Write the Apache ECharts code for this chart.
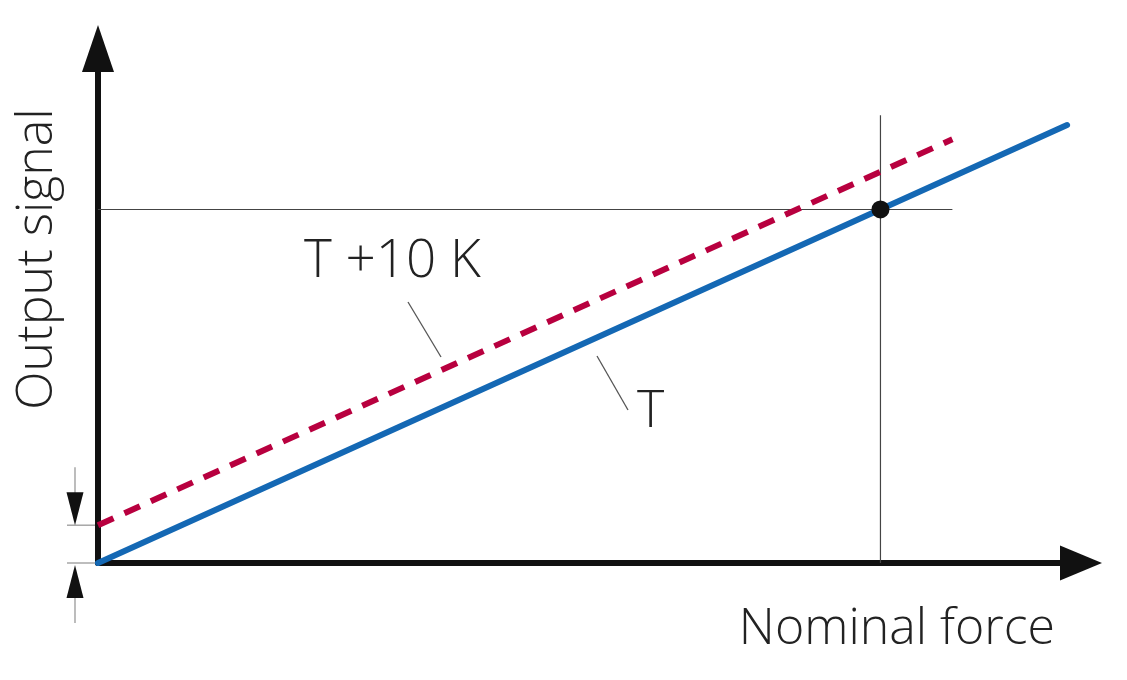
<!DOCTYPE html>
<html>
<head>
<meta charset="utf-8">
<script src="https://cdn.jsdelivr.net/npm/echarts@6/dist/echarts.min.js"></script>
<style>
  html, body { margin: 0; padding: 0; background: #fff; }
  #chart { width: 1127px; height: 680px; }
</style>
</head>
<body>
<div id="chart"></div>
<script>
// characteristic curves (force in %, signal in %)
var curveT = [[0, 0], [99.7, 89.2]];
var curveT10 = [[0, 7.7], [87.9, 86.3]];
// nominal point and its guide lines
var nominalPoint = [80.5, 72];
var guideH = [[0, 72], [87.9, 72]];
var guideV = [[80.5, 0], [80.5, 91.2]];
var zeroShift = 7.7; // zero signal shift for T +10 K

var FONT = '"Open Sans", "DejaVu Sans", sans-serif';

var chart = echarts.init(document.getElementById('chart'));

var option = {
  animation: false,
  grid: { left: 98, right: 57, top: 72, bottom: 117 },
  xAxis: {
    type: 'value', min: 0, max: 100,
    splitLine: { show: false }, axisTick: { show: false }, axisLabel: { show: false },
    axisLine: {
      show: true, onZero: false,
      symbol: ['none', 'triangle'], symbolSize: [35, 42], symbolOffset: [0, 11],
      lineStyle: { color: '#111', width: 6 }
    }
  },
  yAxis: {
    type: 'value', min: 0, max: 100,
    splitLine: { show: false }, axisTick: { show: false }, axisLabel: { show: false },
    axisLine: {
      show: true, onZero: false,
      symbol: ['none', 'triangle'], symbolSize: [32, 47], symbolOffset: [0, 23.5],
      lineStyle: { color: '#111', width: 6 }
    }
  },
  series: [
    {
      type: 'line', data: guideH, symbol: 'none', silent: true,
      lineStyle: { color: '#444', width: 1.2 }
    },
    {
      type: 'line', data: guideV, symbol: 'none', silent: true,
      lineStyle: { color: '#444', width: 1.2 }
    },
    {
      name: 'T +10 K', type: 'line', data: curveT10, symbol: 'none',
      lineStyle: { color: '#b8003f', width: 6, type: [17, 12] }
    },
    {
      name: 'T', type: 'line', data: curveT, symbol: 'none',
      lineStyle: { color: '#1468b4', width: 6, cap: 'round' }
    },
    {
      type: 'scatter', data: [nominalPoint], symbolSize: 18, z: 5,
      itemStyle: { color: '#111', opacity: 1 }
    }
  ]
};
chart.setOption(option);

// annotations
var p0 = chart.convertToPixel({ gridIndex: 0 }, [0, 0]);
var pS = chart.convertToPixel({ gridIndex: 0 }, [0, zeroShift]);
var ax = p0[0] - 23;

function txt(text, x, y, size, align, rotation) {
  return {
    type: 'text', x: x, y: y, rotation: rotation || 0, silent: true,
    style: {
      text: text, fill: '#222', font: '300 ' + size + 'px ' + FONT,
      align: align || 'left', verticalAlign: 'middle'
    }
  };
}
function seg(x1, y1, x2, y2, color) {
  return {
    type: 'line', silent: true,
    shape: { x1: x1, y1: y1, x2: x2, y2: y2 },
    style: { stroke: color || '#555', lineWidth: 1.3 }
  };
}

chart.setOption({
  graphic: [
    // zero shift dimension
    seg(p0[0] - 31, pS[1], p0[0], pS[1], '#999'),
    seg(p0[0] - 31, p0[1], p0[0], p0[1], '#999'),
    seg(ax, pS[1] - 58, ax, pS[1] - 30, '#999'),
    seg(ax, p0[1] + 30, ax, p0[1] + 60, '#999'),
    { type: 'polygon', silent: true,
      shape: { points: [[ax - 8.5, pS[1] - 33], [ax + 8.5, pS[1] - 33], [ax, pS[1]]] },
      style: { fill: '#111' } },
    { type: 'polygon', silent: true,
      shape: { points: [[ax - 8.5, p0[1] + 35], [ax + 8.5, p0[1] + 35], [ax, p0[1] + 2]] },
      style: { fill: '#111' } },
    // leader lines
    seg(408, 302, 441, 357),
    seg(597, 356, 628, 410),
    // labels
    txt('T +10 K', 304, 262, 53),
    txt('T', 637, 412, 52),
    txt('Nominal force', 1055, 630, 50, 'right'),
    txt('Output signal', 38, 259, 50, 'center', Math.PI / 2)
  ]
});
</script>
</body>
</html>
